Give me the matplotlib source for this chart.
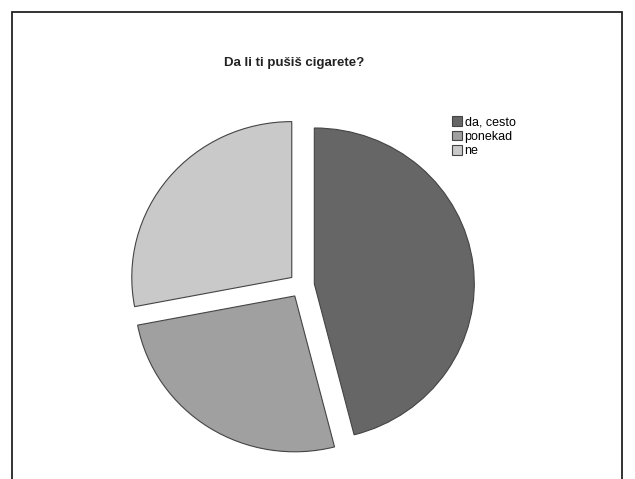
import matplotlib.pyplot as plt
from matplotlib.patches import Rectangle

labels = ['da, cesto', 'ponekad', 'ne']
values = [46, 26, 28]
colors = ['#666666', '#a0a0a0', '#c9c9c9']
explode = [0.08, 0.08, 0.08]

plt.rcParams['font.family'] = ['Liberation Sans', 'DejaVu Sans']

fig = plt.figure(figsize=(6.35, 4.79), dpi=100)

# outer frame
fig.patches.append(Rectangle((12 / 635, -0.05), 610 / 635, 1 - 12 / 479 + 0.05,
                             transform=fig.transFigure, fill=False,
                             edgecolor='#222222', linewidth=1.3))

ax = fig.add_axes([0.150, -0.0042, 0.650, 0.8167])
wedges, _ = ax.pie(values, colors=colors, explode=explode, startangle=90,
                   counterclock=False,
                   wedgeprops={'edgecolor': '#444444', 'linewidth': 0.8})
ax.set_aspect('auto')
ax.set_xlim(-1.29, 1.29)
ax.set_ylim(-1.255, 1.255)
ax.axis('off')

fig.text(294 / 635, 1 - 63 / 479, 'Da li ti pušiš cigarete?', ha='center',
         va='center', fontsize=9.5, fontweight='bold', color='#222222')

fig.legend(wedges, labels, loc='upper left', bbox_to_anchor=(452 / 635, 1 - 116 / 479),
           frameon=False, fontsize=9, handlelength=0.8, handleheight=0.8,
           labelspacing=0.2, handletextpad=0.2, borderpad=0, borderaxespad=0)

fig.savefig('out.png', dpi=100)
